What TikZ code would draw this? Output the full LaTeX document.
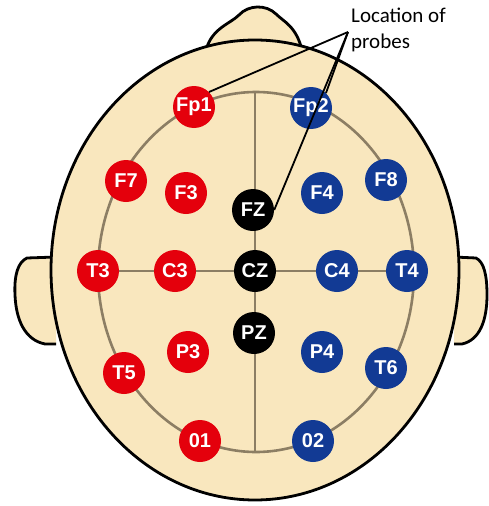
\documentclass[tikz,border=0pt]{standalone}
\usepackage{fontspec}
\setmainfont{Liberation Sans}
\newfontfamily\labelfont{Carlito}
\begin{document}
\begin{tikzpicture}[x=1pt,y=-1pt,
  skin/.style={fill=skinc,draw=black,line width=2.8pt,line join=round},
  ring/.style={draw=ringc,line width=2.6pt},
  electrode/.style={circle,minimum size=42pt,inner sep=0pt,text=white,
    font=\bfseries\fontsize{20}{20}\selectfont},
  left/.style={electrode,fill=redc},
  right/.style={electrode,fill=bluec},
  mid/.style={electrode,fill=black},
  pointer/.style={draw=black,line width=1.8pt}]
\definecolor{skinc}{RGB}{249,231,190}
\definecolor{ringc}{RGB}{140,126,100}
\definecolor{redc}{RGB}{228,0,12}
\definecolor{bluec}{RGB}{18,58,148}
\useasboundingbox (0,0) rectangle (488,506);

% ears
\path[skin] (56,257) -- (27,258) .. controls (18,262) and (14,275) .. (15,295)
  .. controls (16,320) and (25,340) .. (45,344) -- (56,344);
\path[skin] (454,257) -- (476,258) .. controls (484,262) and (487,275) .. (487,295)
  .. controls (487,320) and (480,340) .. (462,344) -- (454,344);
% nose bump
\path[skin] (206,50) .. controls (212,28) and (230,24) .. (239,15)
  .. controls (248,5) and (266,4) .. (276,14)
  .. controls (284,22) and (296,26) .. (302,50);
% head
\path[skin] (255,270) ellipse [x radius=204, y radius=230];

% guide lines
\draw[ring] (256,272) ellipse [x radius=158, y radius=180];
\draw[ring] (98,271) -- (407,271);
\draw[ring] (255,92) -- (255,452);

% electrodes
\node[left]  (fp1) at (194,107) {Fp1};
\node[right] (fp2) at (311,108) {Fp2};
\node[left]  (f7)  at (126,181) {F7};
\node[left]  (f3)  at (186,193) {F3};
\node[mid]   (fz)  at (253,210) {FZ};
\node[right] (f4)  at (322,193) {F4};
\node[right] (f8)  at (386,180) {F8};
\node[left]  (t3)  at (98,271)  {T3};
\node[left]  (c3)  at (175,271) {C3};
\node[mid]   (cz)  at (255,271) {CZ};
\node[right] (c4)  at (337,271) {C4};
\node[right] (t4)  at (407,271) {T4};
\node[left]  (p3)  at (188,352) {P3};
\node[mid]   (pz)  at (254,333) {PZ};
\node[right] (p4)  at (322,352) {P4};
\node[left]  (t5)  at (124,373) {T5};
\node[right] (t6)  at (386,368) {T6};
\node[left]  (o1)  at (200,441) {01};
\node[right] (o2)  at (313,441) {02};

% annotation (anchored on the baseline of its last line)
\node[anchor=base west,align=left,inner sep=0pt,
  font=\labelfont\fontsize{21}{25.6}\selectfont] (lbl) at (351,48.3) {Location of\\probes};
\coordinate (hub) at (348,32);
\draw[pointer] (hub) -- (fp1.north east);
\draw[pointer] (hub) -- (fp2.north east);
\draw[pointer] (hub) -- (fz.east);
\end{tikzpicture}
\end{document}
